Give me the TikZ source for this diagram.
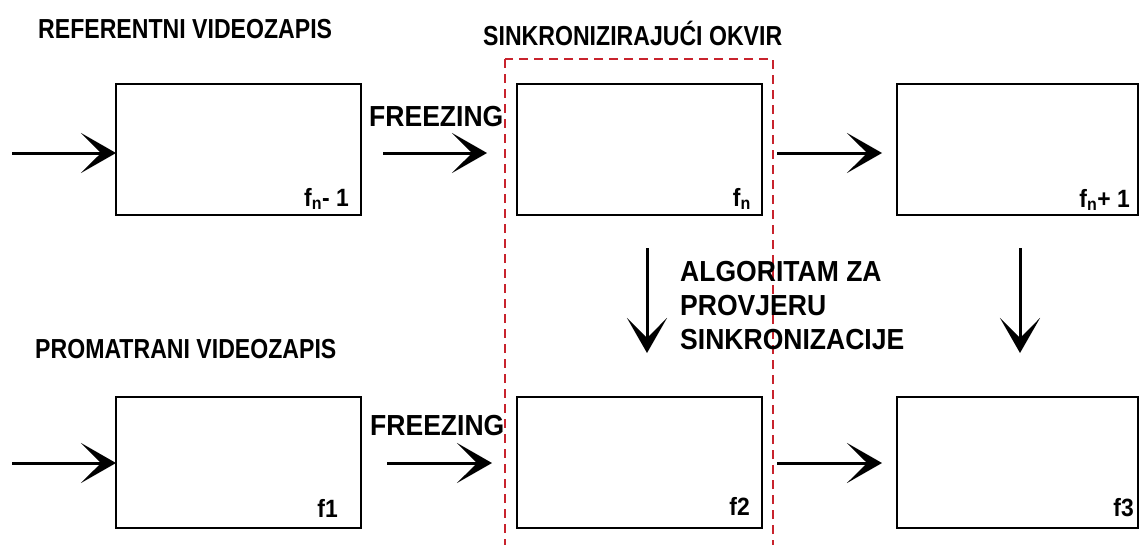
\documentclass[tikz,border=0pt]{standalone}
\usepackage{fontspec}
\setmainfont{Liberation Sans}[FakeStretch=0.915]
\newfontfamily\headFont{Liberation Sans}[FakeStretch=0.84]
\usetikzlibrary{positioning,arrows.meta}
\definecolor{frameRed}{RGB}{200,35,45}
\newcommand\rowDist{313}

\begin{document}
\begin{tikzpicture}[
    x=1pt, y=-1pt,
    frame/.style={%
      draw,
      rectangle,
      line width=2.5pt,
      minimum width=245pt,
      minimum height=131pt,
      inner sep=0pt,
      outer sep=0pt,
    },
    heading/.style={%
      anchor=base west,
      inner sep=0pt,
      font=\headFont\fontsize{27.5}{30}\selectfont\bfseries,
    },
    note/.style={%
      anchor=base west,
      inner sep=0pt,
      font=\fontsize{29}{34}\selectfont\bfseries,
    },
    frametag/.style={%
      anchor=base east,
      inner sep=0pt,
      font=\fontsize{25}{27}\selectfont\bfseries,
    },
    flow/.style={%
      line width=3pt,
      -{Stealth[length=35pt,width=40pt,inset=20pt]},
    },
    sync/.style={%
      draw=frameRed,
      line width=2.5pt,
      dash pattern=on 9pt off 6pt,
    },
  ]

    \useasboundingbox (0,0) rectangle (1139,544);

    \node [frame] (fprev) at (238.5,149.5) {};
    \path (fprev) ++(401,0) node [frame] (fn) {};
    \path (fn) ++(378,0) node [frame, minimum width=241pt] (fnext) {};
    \path (fprev) ++(0,\rowDist) node [frame] (f1) {};
    \path (fn) ++(0,\rowDist) node [frame] (f2) {};
    \path (fnext) ++(0,\rowDist) node [frame, minimum width=241pt] (f3) {};

    \path [sync] (505,59) rectangle (773,560);

    \node [heading] (ref) at (38,38) {REFERENTNI VIDEOZAPIS};
    \node [heading] (syncTitle) at (483,45) {SINKRONIZIRAJUĆI OKVIR};
    \node [heading] (obs) at (35,358) {PROMATRANI VIDEOZAPIS};
    \node [note] (frzTop) at (369,126) {FREEZING};
    \node [note] (frzBot) at (370,435) {FREEZING};
    \node [note, anchor=north west, align=left] (algo) at (680,261)
      {ALGORITAM ZA\\PROVJERU\\SINKRONIZACIJE};

    \node [frametag] (tprev) at ([xshift=-12pt,yshift=9pt]fprev.south east) {f\textsubscript{n}- 1};
    \node [frametag] (tn) at ([xshift=-11pt,yshift=9pt]fn.south east) {f\textsubscript{n}};
    \node [frametag] (tnext) at ([xshift=-8pt,yshift=8pt]fnext.south east) {f\textsubscript{n}+ 1};
    \node [frametag] (t1) at ([xshift=-23pt,yshift=11pt]f1.south east) {f1};
    \node [frametag] (t2) at ([xshift=-12pt,yshift=13pt]f2.south east) {f2};
    \node [frametag] (t3) at ([xshift=-4pt,yshift=12pt]f3.south east) {f3};

    \coordinate (inTop) at (12,153);
    \coordinate (inBot) at (12,463);

    \draw [flow] (inTop) -- (inTop -| fprev.west);
    \draw [flow, shorten <=22pt, shorten >=30pt] (fprev.east |- inTop) -- (fn.west |- inTop);
    \draw [flow, shorten <=15pt, shorten >=15pt] (fn.east |- inTop) -- (fnext.west |- inTop);
    \draw [flow] (inBot) -- (inBot -| f1.west);
    \draw [flow, shorten <=26pt, shorten >=25pt] (f1.east |- inBot) -- (f2.west |- inBot);
    \draw [flow, shorten <=15pt, shorten >=15pt] (f2.east |- inBot) -- (f3.west |- inBot);
    \draw [flow, shorten <=33pt, shorten >=44pt] ([xshift=7.5pt]fn.south) -- ([xshift=7.5pt]f2.north);
    \draw [flow, shorten <=33pt, shorten >=44pt] ([xshift=2.5pt]fnext.south) -- ([xshift=2.5pt]f3.north);
\end{tikzpicture}
\end{document}
